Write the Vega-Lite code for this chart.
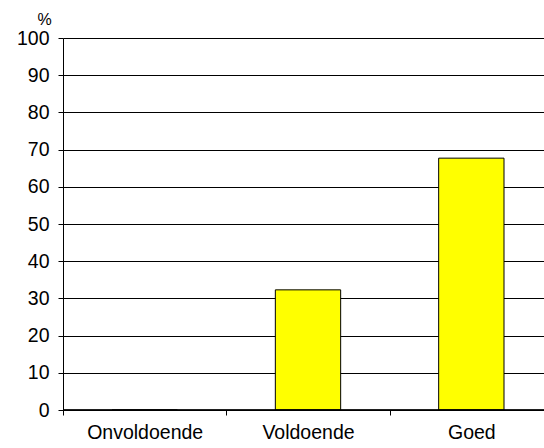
{
  "$schema": "https://vega.github.io/schema/vega-lite/v6.json",
  "width": 481,
  "height": 372,
  "autosize": "none",
  "padding": {"left": 63, "top": 38, "right": 0, "bottom": 38},
  "background": "white",
  "config": {"view": {"stroke": null}, "font": "Liberation Sans"},
  "data": {"values": [
    {"categorie": "Onvoldoende", "pct": 0},
    {"categorie": "Voldoende", "pct": 32.3},
    {"categorie": "Goed", "pct": 67.7}
  ]},
  "resolve": {"axis": {"y": "independent"}},
  "layer": [
    {
      "mark": {"type": "bar", "color": "#ffff00", "stroke": "black", "strokeWidth": 1, "width": {"band": 0.4}},
      "encoding": {
        "x": {"field": "categorie", "type": "nominal", "sort": null,
          "scale": {"range": [0, 490], "paddingInner": 0, "paddingOuter": 0},
          "axis": {"title": null, "labelAngle": 0, "labelFontSize": 19.5, "labelColor": "black", "labelPadding": 8,
            "domain": false, "ticks": true, "tickColor": "black", "tickSize": 5, "tickBand": "extent"}},
        "y": {"field": "pct", "type": "quantitative",
          "scale": {"domain": [0, 100], "nice": false},
          "axis": {"values": [0,10,20,30,40,50,60,70,80,90,100], "labelOverlap": false, "title": "%", "titleAngle": 0, "titleFontSize": 16, "titleFontWeight": "normal", "titleColor": "black",
            "titleX": -19, "titleY": -11, "titleAlign": "center", "titleBaseline": "bottom",
            "labelFontSize": 19.5, "labelColor": "black", "labelPadding": 9,
            "grid": true, "gridColor": "black", "gridWidth": 1, "domainColor": "black", "tickColor": "black", "tickSize": 5}}
      }
    },
    {
      "mark": {"type": "rule", "color": "black", "strokeWidth": 1},
      "encoding": {"y": {"datum": 0, "type": "quantitative", "axis": null}}
    }
  ]
}
